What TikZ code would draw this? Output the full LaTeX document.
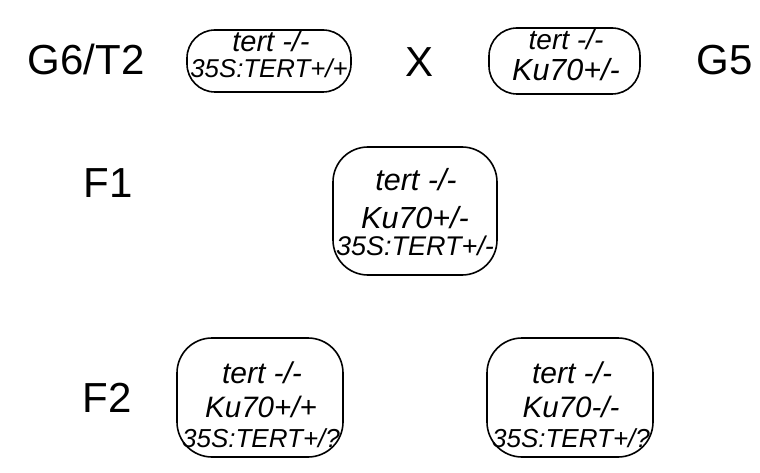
\documentclass[tikz,border=0pt]{standalone}
\usepackage{fontspec}
\setmainfont{Liberation Sans}
\newcommand\myfs[1]{\fontsize{#1}{#1}\selectfont}
\tikzset{
  box/.style={draw, line width=1.6pt, rounded corners=#1, inner sep=0pt},
  box/.default=35pt,
  lab/.style={anchor=base, inner sep=0pt, font=\myfs{42}},
  ln/.style={anchor=base, inner sep=0pt, font=\itshape\myfs{#1}},
}
\begin{document}
\begin{tikzpicture}[x=1pt,y=-1pt]
\useasboundingbox (0,0) rectangle (760,473);
% side labels
\node[lab] (g6) at (86,75) {G6/T2};
\node[lab] (x) at (420,77) {X};
\node[lab] (g5) at (725,75) {G5};
\node[lab] (f1) at (108,197) {F1};
\node[lab] (f2) at (107,412) {F2};
% boxes
\draw[box=28pt] (187,30) rectangle (351,92) coordinate (b1);
\draw[box=28pt] (489,28) rectangle (640,94) coordinate (b2);
\draw[box] (333,147) rectangle (497,275) coordinate (b3);
\draw[box] (177,338) rectangle (343,457) coordinate (b4);
\draw[box] (487,338) rectangle (653,457) coordinate (b5);
% box 1
\node[ln=29] (b1a) at (271,52) {tert -/-};
\node[ln=25.8] (b1b) at (269,78) {35S:TERT+/+};
% box 2
\node[ln=28] (b2a) at (566,50) {tert -/-};
\node[ln=30.5] (b2b) at (566,81) {Ku70+/-};
% box 3
\node[ln=30.5] (b3a) at (416,190) {tert -/-};
\node[ln=30.5] (b3b) at (415,228) {Ku70+/-};
\node[ln=27] (b3c) at (415,255) {35S:TERT+/-};
% box 4
\node[ln=30] (b4a) at (262,383) {tert -/-};
\node[ln=29.5] (b4b) at (261,417) {Ku70+/+};
\node[ln=26] (b4c) at (261,447) {35S:TERT+/?};
% box 5
\node[ln=30] (b5a) at (572,383) {tert -/-};
\node[ln=29.5] (b5b) at (571,417) {Ku70-/-};
\node[ln=26] (b5c) at (571,447) {35S:TERT+/?};
\end{tikzpicture}
\end{document}
